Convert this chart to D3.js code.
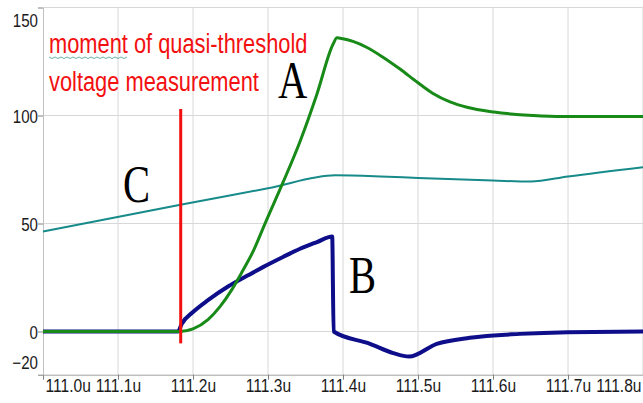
<!DOCTYPE html>
<html><head><meta charset="utf-8">
<script src="https://cdn.jsdelivr.net/npm/d3@7"></script>
<style>body{margin:0;background:#fff}svg{display:block}</style>
</head><body>
<svg id="c" width="643" height="403"></svg>
<script>
// ---- data ----
const xTicks = [111.0, 111.1, 111.2, 111.3, 111.4, 111.5, 111.6, 111.7, 111.8];
const yTicks = [-20, 0, 50, 100, 150];

// A: green
const greenT = [111.0, 111.1827, 111.200, 111.220, 111.236, 111.252, 111.2653, 111.280, 111.2973, 111.320, 111.3427, 111.3653, 111.3867, 111.392, 111.400, 111.4133, 111.432, 111.4533, 111.476, 111.4987, 111.520, 111.5427, 111.5653, 111.6013, 111.6533, 111.6933, 111.8];
const greenV = [0, 0, 1.2, 5.5, 11.5, 19.5, 27.5, 37, 51, 69, 88, 110, 133, 136, 135.5, 134.3, 131.5, 127, 121.5, 115.5, 110.2, 106.3, 103.8, 101.6, 100, 99.5, 99.5];

// B: blue
const blueT = [111.0, 111.180, 111.1849, 111.200, 111.220, 111.2467, 111.2733, 111.2933, 111.320, 111.3427, 111.3653, 111.3856, 111.3875, 111.436, 111.467, 111.488, 111.525, 111.569, 111.636, 111.7, 111.8];
const blueV = [0, 0, 3.5, 9, 14.5, 20.8, 26, 29.8, 34.5, 38.3, 41.4, 44, 0, -5.7, -10, -11.6, -5.7, -2.9, -1.1, -0.3, 0];

// C: teal
const tealT = [111.0, 111.185, 111.3, 111.39, 111.45, 111.5, 111.6, 111.65, 111.7, 111.8];
const tealV = [46.3, 58.8, 66.3, 72.3, 71.8, 71.1, 69.9, 69.4, 71.8, 76.1];

// measurement marker
const markerT = 111.1836;
const markerV = [-5.5, 103];

const noteLines = ["moment of quasi-threshold", "voltage measurement"];
const curveLabels = ["A", "B", "C"];

// ---- chart ----
const svg = d3.select("#c");
const x = d3.scaleLinear([111.0, 111.8], [43, 643]);
const y = d3.scaleLinear([-20, 150], [374.7, 7.5]);
const sans = "'Liberation Sans', Arial, sans-serif";
const serif = "'Liberation Serif', 'Times New Roman', serif";

// grid
svg.append("g").selectAll("line").data(yTicks.filter(d => d > -20)).join("line")
  .attr("x1", x(111.0)).attr("x2", x(111.8)).attr("y1", d => y(d)).attr("y2", d => y(d))
  .attr("stroke", "#d8d8d8").attr("stroke-width", 1);
svg.append("g").selectAll("line").data(xTicks.filter(d => d > 111.0)).join("line")
  .attr("x1", d => x(d)).attr("x2", d => x(d)).attr("y1", y(150)).attr("y2", y(-20))
  .attr("stroke", "#d8d8d8").attr("stroke-width", 1);

// axes
const gx = svg.append("g").attr("transform", `translate(0,${y(-20)})`)
  .call(d3.axisBottom(x).tickValues(xTicks).tickSize(5).tickSizeOuter(0).tickFormat(d => d.toFixed(1) + "u"));
gx.select(".domain").attr("stroke", "#a0a0a0");
gx.selectAll(".tick line").attr("stroke", "#808080");
const sx = 0.82;
gx.selectAll("text").attr("y", 17).attr("dy", 0).attr("font-size", 19)
  .attr("font-family", sans).attr("fill", "#1a1a1a").attr("transform", `scale(${sx},1)`)
  .attr("text-anchor", (d, i) => i === 0 ? "start" : (i === xTicks.length - 1 ? "end" : "middle"))
  .attr("x", (d, i) => i === 0 ? 2 / sx : (i === xTicks.length - 1 ? -2 / sx : 0));

const gy = svg.append("g").attr("transform", `translate(${x(111.0)},0)`)
  .call(d3.axisLeft(y).tickValues(yTicks).tickSize(5).tickSizeOuter(0));
gy.select(".domain").attr("stroke", "#c0c0c0");
gy.selectAll(".tick line").attr("stroke", "#808080");
const sy = 0.84;
gy.selectAll("text").attr("x", -5 / sy).attr("dy", 0).attr("font-size", 18)
  .attr("font-family", sans).attr("fill", "#1a1a1a").attr("transform", `scale(${sy},1)`)
  .attr("y", d => d === 150 ? 19 : (d === -20 ? -6.2 : 6.5));

// lines
const line = (T, V, curve) => d3.line().x((d, i) => x(T[i])).y((d, i) => y(V[i])).curve(curve)(V);
svg.append("path").attr("d", line(tealT, tealV, d3.curveMonotoneX))
  .attr("fill", "none").attr("stroke", "#178a8a").attr("stroke-width", 2);
svg.append("path").attr("d", line(blueT, blueV, d3.curveMonotoneX))
  .attr("fill", "none").attr("stroke", "#0e0e8a").attr("stroke-width", 4).attr("stroke-linejoin", "round");
svg.append("path").attr("d", line(greenT, greenV, d3.curveMonotoneX))
  .attr("fill", "none").attr("stroke", "#178a17").attr("stroke-width", 3).attr("stroke-linejoin", "round");

// marker
svg.append("line").attr("x1", x(markerT)).attr("x2", x(markerT))
  .attr("y1", y(markerV[0])).attr("y2", y(markerV[1]))
  .attr("stroke", "#f21010").attr("stroke-width", 3);

// annotation text
const st = 0.78;
const note = svg.append("g");
noteLines.forEach((t, i) => {
  note.append("text").text(t)
    .attr("transform", `translate(49,${53 + i * 37.5}) scale(${st},1)`)
    .attr("font-family", sans).attr("font-size", 28).attr("fill", "#f21010");
});
// spell-check squiggle under "moment"
const sq = d3.range(0, 27).map(i => [49 + i * 3, 57.5 + (i % 2 ? 1 : -0.5)]);
svg.append("path").attr("d", d3.line()(sq)).attr("fill", "none")
  .attr("stroke", "#5fa8a0").attr("stroke-width", 0.9);

const labelPos = [[278, 98], [349, 293], [123, 202]];
curveLabels.forEach((t, i) => {
  svg.append("text").text(t)
    .attr("transform", `translate(${labelPos[i][0]},${labelPos[i][1]}) scale(0.78,1)`)
    .attr("font-family", serif).attr("font-size", 52).attr("fill", "#000");
});
</script>
</body></html>
